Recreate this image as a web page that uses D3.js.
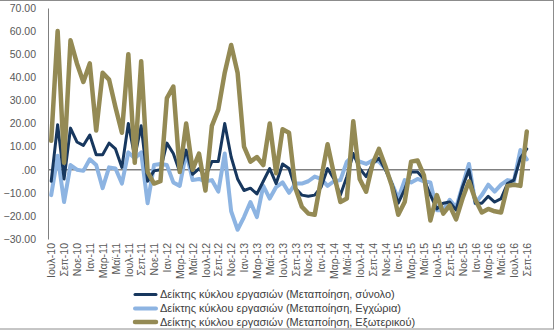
<!DOCTYPE html>
<html><head><meta charset="utf-8">
<script src="https://cdn.jsdelivr.net/npm/d3@7"></script>
<style>
body{margin:0;background:#fff;}
svg{display:block;font-family:"Liberation Sans",Arial,sans-serif;}
</style></head>
<body><svg id="c" width="554" height="330"></svg>
<script>
const categories = [
"Ιουλ-10","Αυγ-10","Σεπ-10","Οκτ-10","Νοε-10","Δεκ-10",
"Ιαν-11","Φεβ-11","Μαρ-11","Απρ-11","Μαϊ-11","Ιουν-11","Ιουλ-11","Αυγ-11","Σεπ-11","Οκτ-11","Νοε-11","Δεκ-11",
"Ιαν-12","Φεβ-12","Μαρ-12","Απρ-12","Μαϊ-12","Ιουν-12","Ιουλ-12","Αυγ-12","Σεπ-12","Οκτ-12","Νοε-12","Δεκ-12",
"Ιαν-13","Φεβ-13","Μαρ-13","Απρ-13","Μαϊ-13","Ιουν-13","Ιουλ-13","Αυγ-13","Σεπ-13","Οκτ-13","Νοε-13","Δεκ-13",
"Ιαν-14","Φεβ-14","Μαρ-14","Απρ-14","Μαϊ-14","Ιουν-14","Ιουλ-14","Αυγ-14","Σεπ-14","Οκτ-14","Νοε-14","Δεκ-14",
"Ιαν-15","Φεβ-15","Μαρ-15","Απρ-15","Μαϊ-15","Ιουν-15","Ιουλ-15","Αυγ-15","Σεπ-15","Οκτ-15","Νοε-15","Δεκ-15",
"Ιαν-16","Φεβ-16","Μαρ-16","Απρ-16","Μαϊ-16","Ιουν-16","Ιουλ-16","Αυγ-16","Σεπ-16"];

const totalValues = [
-5,19.5,-4,18,12,10.5,
15,6.5,6.5,11.5,9,1,20,5.5,19,-5,-0.5,0,
11.5,7,-1,8.5,-2,0.5,-3,3.5,3.5,20,5.5,-4,
-9,-8,-10.5,-5,0.5,-6,2.5,0.5,-8,-11,-11.5,-11,
-7.5,0.5,-4,-11,-3,7,0.5,-3,2.5,5,0,-6,
-14.5,-8.5,-1,-1,-4,-11,-17,-14.5,-14,-17.5,-7.5,0,
-14.5,-14.5,-11.5,-14,-12.5,-6,-4.5,5,9];

const domesticValues = [
-11,6,-14,2,0,-0.5,
4.5,2,-8,1,0.5,-6,7.5,5,7.5,-14.5,2,2.5,
2,-5.5,-7,7.5,-4.5,-4,-5,-4.5,-9.5,7,-18,-26,
-20.5,-14,-20.5,-7,-12.5,-7.5,-5.5,-10,-6,-6,-5,-3,
-4,-7,-5,-4.5,3.5,6,3.5,2.5,4,3.5,0.5,-6,
-12.5,-4.5,-5.5,-4,-5,-5.5,-17.5,-17.5,-13,-16.5,-7,2.5,
-14.5,-11,-6.5,-9.5,-6.5,-4.5,-5,8.5,4.5];

const exportValues = [
12.5,60,3,56,46,38,
46,17,42,39,27,16,50,3,47,-1,-6,-5,
31,36,-1,20,0,7,-9,19,26,42,54,42,
10,3.5,5.5,2,20,-1.5,17.5,16,-8,-16,-19,-19.5,
-4,11,-2,-14,-12.5,21,-4,-9.5,2.5,9,1.5,-7,
-19.5,-14,3.5,4,-2.5,-22,-11,-19,-15.5,-21.5,-12.5,-5,
-13,-18.5,-17,-18,-18.5,-7,-6.5,-7,16.5];

const seriesNames = [
"Δείκτης κύκλου εργασιών (Μεταποίηση, σύνολο)",
"Δείκτης κύκλου εργασιών (Μεταποίηση, Εγχώρια)",
"Δείκτης κύκλου εργασιών (Μεταποίηση, Εξωτερικού)"];

const yTicks = [-30,-20,-10,0,10,20,30,40,50,60,70];
const xTickLabels = categories.filter((d,i)=>i%2===0);

const svg = d3.select("#c");
const W=554,H=330;
svg.append("rect").attr("x",-2).attr("y",0.5).attr("width",W+1.5).attr("height",H-1.5)
  .attr("fill","#fff").attr("stroke","#8c8c8c").attr("stroke-width",1);

const x = d3.scaleBand().domain(categories).range([48,530]).padding(0);
const cx = d=>x(d)+x.bandwidth()/2;
const y = d3.scaleLinear().domain([-30,70]).range([239,8]);

// y axis
const fmt = v => v===0 ? ".00" : d3.format(".2f")(v);
const ya = svg.append("g").attr("transform","translate(48,0)")
  .call(d3.axisLeft(y).tickValues(yTicks).tickSize(0).tickPadding(12).tickFormat(fmt));
ya.select(".domain").attr("stroke","#7f7f7f").attr("stroke-width",1);
ya.selectAll("text").attr("fill","#595959").style("font-size","10.5px");

// zero line
svg.append("line").attr("x1",48).attr("x2",530).attr("y1",y(0)).attr("y2",y(0))
  .attr("stroke","#808080").attr("stroke-width",1.5);

// x axis labels
const xa = svg.append("g").attr("transform","translate(0,239)")
  .call(d3.axisBottom(d3.scalePoint().domain(categories).range([cx(categories[0]),cx(categories[categories.length-1])]))
    .tickValues(xTickLabels).tickSize(0));
xa.select(".domain").remove();
xa.selectAll("text").attr("fill","#595959").style("font-size","10.5px")
  .attr("transform","rotate(-90)").attr("text-anchor","end")
  .attr("x",-4).attr("y",0).attr("dy","0.35em");

const series = [
  {name:seriesNames[0], values:totalValues, color:"#17375e", w:3},
  {name:seriesNames[1], values:domesticValues, color:"#8db4e2", w:4},
  {name:seriesNames[2], values:exportValues, color:"#948a54", w:4.5}
];
const line = d3.line().x((d,i)=>cx(categories[i])).y(d=>y(d));
// draw order: domestic, total, export
[series[1],series[0],series[2]].forEach(s=>{
  svg.append("path").datum(s.values).attr("d",line)
    .attr("fill","none").attr("stroke",s.color).attr("stroke-width",s.w)
    .attr("stroke-linejoin","round").attr("stroke-linecap","round");
});

// legend
const lg = svg.append("g");
const ly = [294.5,308.5,322];
series.forEach((s,i)=>{
  lg.append("line").attr("x1",135).attr("x2",156).attr("y1",ly[i]).attr("y2",ly[i])
    .attr("stroke",s.color).attr("stroke-width",s.w).attr("stroke-linecap","round");
  lg.append("text").attr("x",160).attr("y",ly[i]).attr("dy","0.35em")
    .attr("fill","#404040").style("font-size","11px").text(s.name);
});
</script></body></html>
